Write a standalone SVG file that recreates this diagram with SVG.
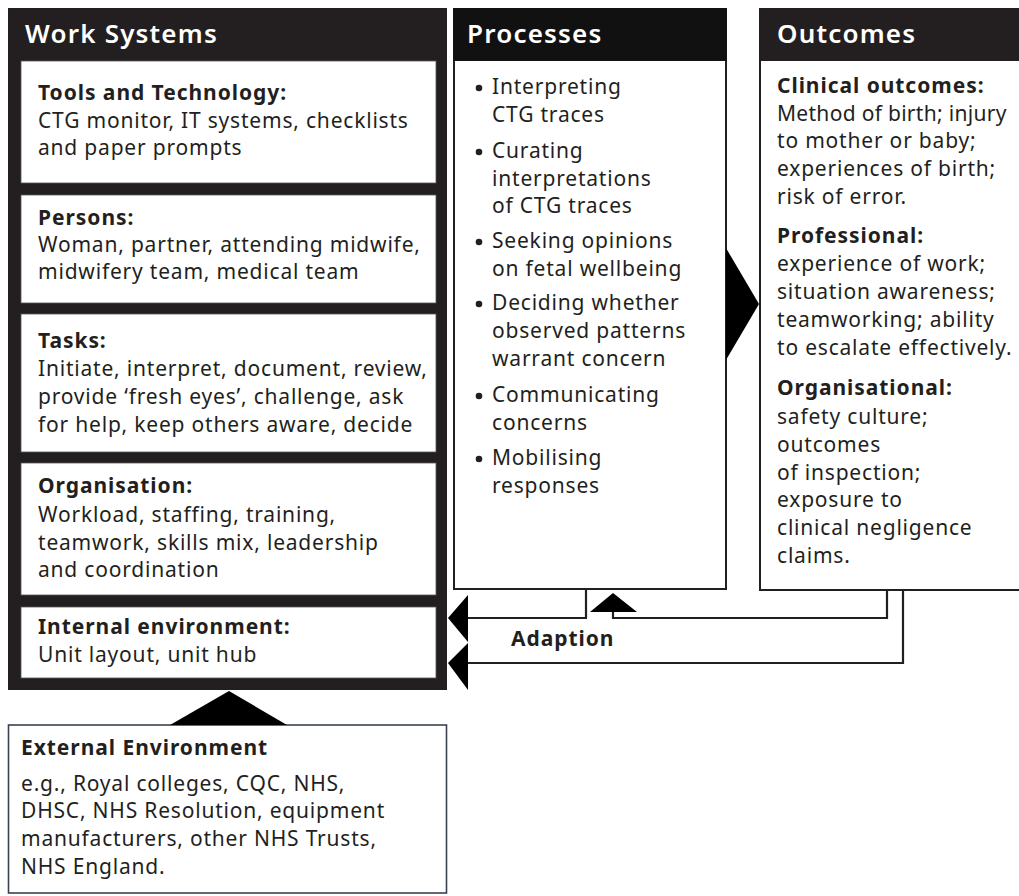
<svg xmlns="http://www.w3.org/2000/svg" width="1019" height="896" viewBox="0 0 1019 896">
<style>
  text { font-family: "Noto Sans", "Open Sans", sans-serif; fill: #231f20; font-size: 21px; letter-spacing: 0.8px; }
  .hd { fill: #ffffff; font-size: 26px; font-weight: 600; letter-spacing: 1.2px; }
  .b { font-weight: 700; letter-spacing: 0.95px; }
  .panel { fill: #231f20; }
  .inner { fill: #ffffff; stroke: #555; stroke-width: 0.8; }
  .box { fill: #ffffff; stroke: #231f20; stroke-width: 2; }
  .conn { fill: none; stroke: #231f20; stroke-width: 2.2; }
  .head { fill: #000000; }
</style>

<g id="work-systems">
  <rect class="panel" x="8" y="8" width="439" height="682"/>
  <text class="hd" x="25" y="43">Work Systems</text>
  <g id="tools">
    <rect class="inner" x="21" y="61" width="415" height="122"/>
    <text class="b" x="38" y="100">Tools and Technology:</text>
    <text x="38" y="128">CTG monitor, IT systems, checklists</text>
    <text x="38" y="155">and paper prompts</text>
  </g>
  <g id="persons">
    <rect class="inner" x="21" y="195" width="415" height="108"/>
    <text class="b" x="38" y="225">Persons:</text>
    <text x="38" y="252">Woman, partner, attending midwife,</text>
    <text x="38" y="279">midwifery team, medical team</text>
  </g>
  <g id="tasks">
    <rect class="inner" x="21" y="314" width="415" height="138"/>
    <text class="b" x="38" y="348">Tasks:</text>
    <text x="38" y="376">Initiate, interpret, document, review,</text>
    <text x="38" y="404">provide ‘fresh eyes’, challenge, ask</text>
    <text x="38" y="432">for help, keep others aware, decide</text>
  </g>
  <g id="organisation">
    <rect class="inner" x="21" y="463" width="415" height="132"/>
    <text class="b" x="38" y="493">Organisation:</text>
    <text x="38" y="522">Workload, staffing, training,</text>
    <text x="38" y="550">teamwork, skills mix, leadership</text>
    <text x="38" y="577">and coordination</text>
  </g>
  <g id="internal-environment">
    <rect class="inner" x="21" y="607" width="415" height="71"/>
    <text class="b" x="38" y="634">Internal environment:</text>
    <text x="38" y="662">Unit layout, unit hub</text>
  </g>
</g>

<g id="processes">
  <rect class="box" x="454" y="9" width="272" height="580"/>
  <rect x="453" y="8" width="274" height="53" fill="#111111"/>
  <text class="hd" x="467" y="43">Processes</text>
  <g>
    <circle cx="479" cy="88" r="3.3" fill="#231f20"/>
    <text x="492" y="94">Interpreting</text>
    <text x="492" y="122">CTG traces</text>
    <circle cx="479" cy="152" r="3.3" fill="#231f20"/>
    <text x="492" y="158">Curating</text>
    <text x="492" y="186">interpretations</text>
    <text x="492" y="213">of CTG traces</text>
    <circle cx="479" cy="242" r="3.3" fill="#231f20"/>
    <text x="492" y="248">Seeking opinions</text>
    <text x="492" y="276">on fetal wellbeing</text>
    <circle cx="479" cy="304" r="3.3" fill="#231f20"/>
    <text x="492" y="310">Deciding whether</text>
    <text x="492" y="338">observed patterns</text>
    <text x="492" y="366">warrant concern</text>
    <circle cx="479" cy="396" r="3.3" fill="#231f20"/>
    <text x="492" y="402">Communicating</text>
    <text x="492" y="430">concerns</text>
    <circle cx="479" cy="459" r="3.3" fill="#231f20"/>
    <text x="492" y="465">Mobilising</text>
    <text x="492" y="493">responses</text>
  </g>
</g>

<g id="outcomes">
  <rect class="box" x="760" y="9" width="270" height="581"/>
  <rect class="panel" x="759" y="8" width="270" height="53"/>
  <text class="hd" x="777" y="43">Outcomes</text>
  <text class="b" x="777" y="93">Clinical outcomes:</text>
  <text x="777" y="121" style="letter-spacing:0.3px">Method of birth; injury</text>
  <text x="777" y="148">to mother or baby;</text>
  <text x="777" y="176">experiences of birth;</text>
  <text x="777" y="204">risk of error.</text>
  <text class="b" x="777" y="243">Professional:</text>
  <text x="777" y="271">experience of work;</text>
  <text x="777" y="299">situation awareness;</text>
  <text x="777" y="327">teamworking; ability</text>
  <text x="777" y="355">to escalate effectively.</text>
  <text class="b" x="777" y="395">Organisational:</text>
  <text x="777" y="424">safety culture;</text>
  <text x="777" y="452">outcomes</text>
  <text x="777" y="480">of inspection;</text>
  <text x="777" y="507">exposure to</text>
  <text x="777" y="535">clinical negligence</text>
  <text x="777" y="563">claims.</text>
</g>

<g id="external-environment">
  <rect x="8.5" y="725" width="438" height="168" fill="#ffffff" stroke="#3a4250" stroke-width="1.6"/>
  <text class="b" x="21" y="755">External Environment</text>
  <text x="21" y="791">e.g., Royal colleges, CQC, NHS,</text>
  <text x="21" y="818">DHSC, NHS Resolution, equipment</text>
  <text x="21" y="846">manufacturers, other NHS Trusts,</text>
  <text x="21" y="874">NHS England.</text>
</g>

<g id="connectors">
  <polygon class="head" points="726,248 759,304 726,360"/>
  <polygon class="head" points="229,691 287,725 170,725"/>
  <polyline class="conn" points="586,589 586,618 466,618"/>
  <polygon class="head" points="448,618 468,595 468,642"/>
  <polyline class="conn" points="887,590 887,618 613,618 613,610"/>
  <polygon class="head" points="613,593 637,612 590,612"/>
  <polyline class="conn" points="903,590 903,663 466,663"/>
  <polygon class="head" points="448,663 468,643 468,690"/>
  <text class="b" x="511" y="646">Adaption</text>
</g>
</svg>
